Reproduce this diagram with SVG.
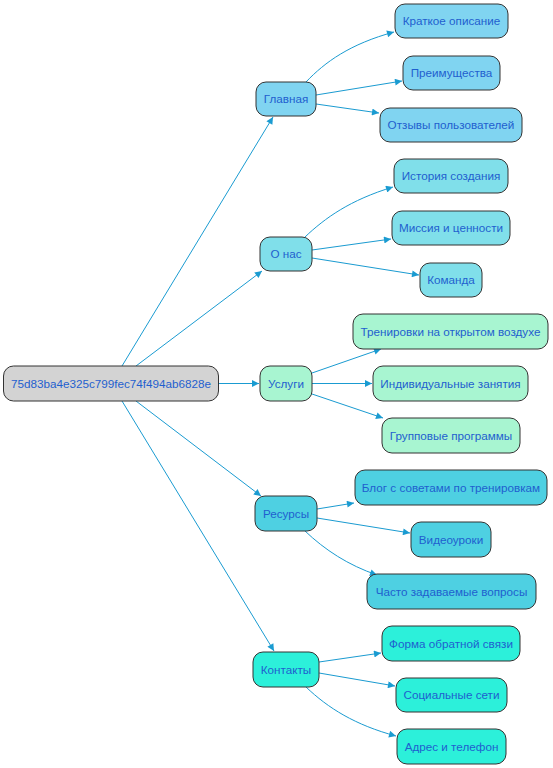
<svg xmlns="http://www.w3.org/2000/svg" width="553" height="768" viewBox="0 0 553 768">
<defs>
<marker id="ah" viewBox="0 0 10 10" refX="10" refY="5" markerWidth="10" markerHeight="7" markerUnits="userSpaceOnUse" orient="auto">
<path d="M0,0 L10,5 L0,10 z" fill="#1a9bd1"/>
</marker>
<style>
.n rect{stroke:#333;stroke-width:1}
.n text{font-family:"Liberation Sans",Arial,sans-serif;font-size:11.7px;fill:#1f5fcf;text-anchor:middle}
.root rect{fill:#d3d3d3}
.g1 rect{fill:#80d4f1}
.g2 rect{fill:#80dfea}
.g3 rect{fill:#a8f5d1}
.g4 rect{fill:#4ed0e2}
.g5 rect{fill:#2cf0da}
#edges path{fill:none;stroke:#1a9bd1;stroke-width:1;marker-end:url(#ah)}
</style>
</defs>
<rect width="553" height="768" fill="#ffffff"/>
<g id="edges">
<path d="M122,366 L273,117"/>
<path d="M136,366 L262,271"/>
<path d="M218,383.5 L259,383.5"/>
<path d="M136,401 L261,496"/>
<path d="M122,401 L274,651"/>
<path d="M306,82 C325,62 350,44 394,32"/>
<path d="M316,95 L402,81"/>
<path d="M316,104 L379,113"/>
<path d="M305,237 C325,218 350,200 393,187"/>
<path d="M312,250 L391,239"/>
<path d="M312,258 L419,275"/>
<path d="M312,373 L381,349"/>
<path d="M312,383.5 L372,383.5"/>
<path d="M312,394 L383,418"/>
<path d="M317,509 L354,503"/>
<path d="M317,518 L410,533"/>
<path d="M305,531 C325,550 348,565 377,575"/>
<path d="M319,662 L381,653"/>
<path d="M319,673 L395,686"/>
<path d="M306,687 C328,708 355,725 396,736"/>
</g>
<g id="root" class="n root"><rect x="3.5" y="366" width="215" height="35" rx="10"/><text x="111" y="387.5">75d83ba4e325c799fec74f494ab6828e</text></g>
<g id="glavnaya" class="n g1"><rect x="256" y="82" width="60" height="34" rx="10"/><text x="286" y="103">Главная</text></g>
<g id="kratkoe" class="n g1"><rect x="395" y="4" width="113" height="34" rx="10"/><text x="451.5" y="25">Краткое описание</text></g>
<g id="preimushchestva" class="n g1"><rect x="403" y="56" width="97" height="34" rx="10"/><text x="451.5" y="77">Преимущества</text></g>
<g id="otzyvy" class="n g1"><rect x="380" y="108" width="142" height="34" rx="10"/><text x="451" y="129">Отзывы пользователей</text></g>
<g id="onas" class="n g2"><rect x="260" y="237" width="52" height="34" rx="10"/><text x="286" y="258">О нас</text></g>
<g id="istoriya" class="n g2"><rect x="394" y="159" width="114" height="34" rx="10"/><text x="451" y="180">История создания</text></g>
<g id="missiya" class="n g2"><rect x="392" y="211" width="118" height="34" rx="10"/><text x="451" y="232">Миссия и ценности</text></g>
<g id="komanda" class="n g2"><rect x="420" y="263" width="62" height="34" rx="10"/><text x="451" y="284">Команда</text></g>
<g id="uslugi" class="n g3"><rect x="260" y="366" width="52" height="35" rx="10"/><text x="286" y="387.5">Услуги</text></g>
<g id="trenirovki" class="n g3"><rect x="353" y="314" width="195" height="35" rx="10"/><text x="450.5" y="335.5">Тренировки на открытом воздухе</text></g>
<g id="individ" class="n g3"><rect x="373" y="366" width="155" height="35" rx="10"/><text x="450.5" y="387.5">Индивидуальные занятия</text></g>
<g id="gruppovye" class="n g3"><rect x="382" y="418" width="138" height="35" rx="10"/><text x="451" y="439.5">Групповые программы</text></g>
<g id="resursy" class="n g4"><rect x="255" y="496" width="62" height="35" rx="10"/><text x="286" y="517.5">Ресурсы</text></g>
<g id="blog" class="n g4"><rect x="355" y="470" width="192" height="35" rx="10"/><text x="451" y="491.5">Блог с советами по тренировкам</text></g>
<g id="video" class="n g4"><rect x="411" y="522" width="80" height="35" rx="10"/><text x="451" y="543.5">Видеоуроки</text></g>
<g id="faq" class="n g4"><rect x="367" y="574" width="169" height="35" rx="10"/><text x="451.5" y="595.5">Часто задаваемые вопросы</text></g>
<g id="kontakty" class="n g5"><rect x="253" y="652" width="66" height="35" rx="10"/><text x="286" y="673.5">Контакты</text></g>
<g id="forma" class="n g5"><rect x="382" y="626" width="138" height="35" rx="10"/><text x="451" y="647.5">Форма обратной связи</text></g>
<g id="soc" class="n g5"><rect x="396" y="678" width="111" height="34" rx="10"/><text x="451.5" y="699">Социальные сети</text></g>
<g id="adres" class="n g5"><rect x="397" y="729" width="109" height="35" rx="10"/><text x="451.5" y="750.5">Адрес и телефон</text></g>
</svg>
